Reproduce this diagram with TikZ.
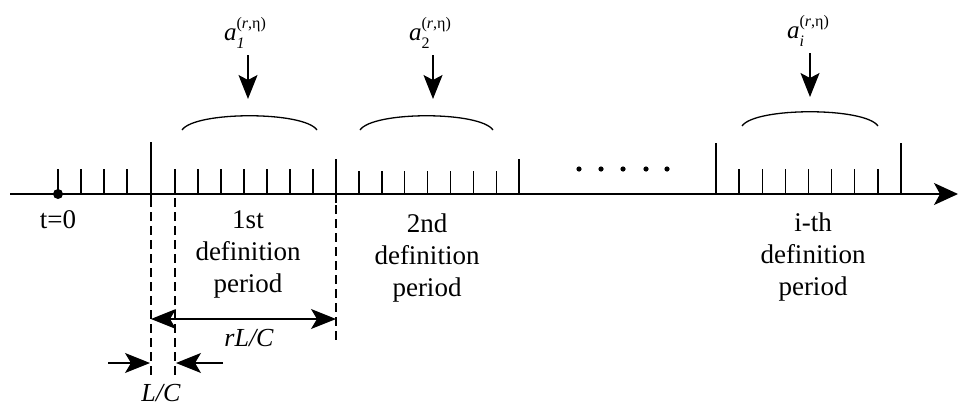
\documentclass[tikz,border=0pt]{standalone}
\usepackage{fontspec}
\setmainfont{Liberation Serif}
\usetikzlibrary{arrows.meta}
\begin{document}
\begin{tikzpicture}[x=1pt,y=-1pt,
  tickline/.style={line width=1.2pt},
  axisline/.style={line width=1.4pt,-{Stealth[length=24pt,width=22pt,inset=6pt]}},
  lbl/.style={font=\fontsize{27}{32}\selectfont, align=center, inner sep=0pt, anchor=base},
  mlbl/.style={font=\fontsize{26}{32}\selectfont\itshape, inner sep=0pt},
  albl/.style={font=\fontsize{25}{28}\selectfont, inner sep=0pt},
  dimline/.style={line width=1.2pt, dash pattern=on 9pt off 5pt},
  downarr/.style={line width=1.2pt,-{Stealth[length=24pt,width=19pt,inset=5pt]}},
  dimarr/.style={line width=1.2pt,-{Stealth[length=25pt,width=20pt,inset=6pt]}},
  dimarrs/.style={line width=1.2pt,{Stealth[length=25pt,width=20pt,inset=6pt]}-{Stealth[length=25pt,width=20pt,inset=6pt]}},
  arcline/.style={line width=1.3pt}]
\useasboundingbox (0,0) rectangle (959,408);

% axis
\coordinate (ax0) at (10,194);
\coordinate (ax1) at (958,194);
\draw[axisline] (ax0) -- (ax1);

% ticks before first period
\foreach \x in {58,81,104,127} \draw[tickline] (\x,194) -- (\x,169);
\fill (58,194) circle (5pt);
% boundary ticks
\draw[tickline] (151,198) -- (151,142);
\draw[tickline] (336,203) -- (336,159);
\draw[tickline] (519,194) -- (519,159);
\draw[tickline] (716,194) -- (716,143);
\draw[tickline] (901,194) -- (901,143);
% period ticks
\foreach \i in {0,...,6} {
  \draw[tickline] ({175+23*\i},194) -- ({175+23*\i},169);
  \draw[tickline] ({359+22.9*\i},194) -- ({359+22.9*\i},171);
  \draw[tickline] ({739+23.17*\i},194) -- ({739+23.17*\i},169);
}
% ellipsis dots
\foreach \x in {579,601,623,646,667} \fill (\x,169) circle (2.6pt);

% labels below axis (anchor = baseline of the last line)
\node[lbl] (t0) at (58,228) {t=0};
\node[lbl] (p1) at (248,292) {1st\\definition\\period};
\node[lbl] (p2) at (427,296) {2nd\\definition\\period};
\node[lbl] (pi) at (813,295) {i-th\\definition\\period};

% dashed markers
\coordinate (d1t) at (151,198); \coordinate (d1b) at (151,376);
\coordinate (d2t) at (175,198); \coordinate (d2b) at (175,376);
\coordinate (d3t) at (336,205); \coordinate (d3b) at (336,343);
\draw[dimline] (d1t) -- (d1b);
\draw[dimline] (d2t) -- (d2b);
\draw[dimline] (d3t) -- (d3b);

% rL/C
\coordinate (r0) at (151,319); \coordinate (r1) at (336,319);
\draw[dimarrs] (r0) -- (r1);
\node[mlbl] (rlc) at (249,338) {rL/C};

% L/C
\coordinate (l0) at (108,363); \coordinate (l1) at (150,363);
\coordinate (m0) at (223,363); \coordinate (m1) at (176,363);
\draw[dimarr] (l0) -- (l1);
\draw[dimarr] (m0) -- (m1);
\node[mlbl] (lc) at (161,393) {L/C};

% arcs (braces)
\draw[arcline] (182,130) .. controls (195,111) and (304,111) .. (317,130);
\draw[arcline] (360,130) .. controls (373,111) and (480,111) .. (493,130);
\draw[arcline] (742,126) .. controls (755,107) and (865,107) .. (878,126);

% coefficient labels and arrows
\node[albl] (a1) at (245,33) {\textit{a}\rlap{\raisebox{-0.32em}{\fontsize{16}{16}\selectfont\textit{1}}}\raisebox{0.5em}{\fontsize{16}{16}\selectfont(\textit{r},η)}};
\node[albl] (a2) at (430,33) {\textit{a}\rlap{\raisebox{-0.32em}{\fontsize{16}{16}\selectfont 2}}\raisebox{0.5em}{\fontsize{16}{16}\selectfont(\textit{r},η)}};
\node[albl] (ai) at (808,31) {\textit{a}\rlap{\raisebox{-0.32em}{\fontsize{16}{16}\selectfont\textit{i}}}\raisebox{0.5em}{\fontsize{16}{16}\selectfont(\textit{r},η)}};
\coordinate (b1) at (248,99); \coordinate (b2) at (433,99); \coordinate (bi) at (810,97);
\draw[downarr] (248,55) -- (b1);
\draw[downarr] (433,55) -- (b2);
\draw[downarr] (810,53) -- (bi);
\end{tikzpicture}
\end{document}
